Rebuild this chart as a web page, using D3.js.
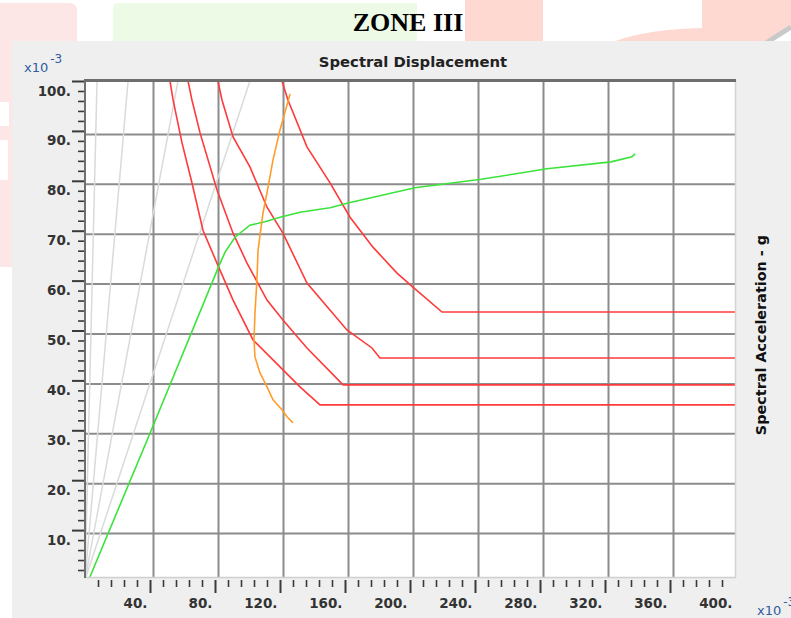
<!DOCTYPE html>
<html>
<head>
<meta charset="utf-8">
<title>Zone III - Spectral Displacement</title>
<script src="https://cdn.jsdelivr.net/npm/d3@7"></script>
<style>
  body { margin: 0; background: #fff; }
  svg { display: block; }
</style>
</head>
<body>
<script>
// tick values (both axes in x10^-3)
var xTicks = [40, 80, 120, 160, 200, 240, 280, 320, 360, 400];
var yTicks = [10, 20, 30, 40, 50, 60, 70, 80, 90, 100];

// constant period lines, x value where each one meets the top (y = 100)
var periodTopX = [7.4, 26.5, 57.2, 101.5];

// capacity curve (green)
var capacityCurve = [[3, 0.6], [41.8, 30.8], [82.5, 63], [86.2, 65.7], [92.3, 68.7], [101.5, 71.1],
  [110.8, 71.8], [120, 72.7], [132.3, 73.7], [150.8, 74.6], [162.5, 75.6], [203, 78.6],
  [243.7, 80.3], [284.3, 82.4], [323.7, 83.8], [336.6, 84.8], [338.5, 85.4]];

// performance point trace (orange)
var perfTrace = [[126.2, 97.4], [120, 90.2], [115.7, 84.2], [112, 77.6], [109.5, 73.5], [106.5, 66.1],
  [105.8, 60.1], [104.6, 53.5], [104, 48.1], [104.6, 44.7], [107.7, 41.5], [112, 38.7],
  [115.7, 36.1], [121.2, 34.1], [124.3, 32.7], [128, 31.5]];

// reduced demand spectra (red)
var demand1 = [[52.3, 100], [54.2, 96.2], [59.7, 87.6], [65.8, 79.6], [72.6, 70.1], [81.2, 63.5],
  [91.1, 56.1], [103.4, 48.1], [120, 42.7], [132.3, 38.7], [144.6, 35.1], [400, 35.1]];
var demand2 = [[63.4, 100], [65.8, 96.2], [70.8, 89.6], [81.2, 78.2], [91.1, 69.5], [99.7, 63.5],
  [112, 56.1], [121.8, 52.1], [136.6, 46.5], [158.8, 39.1], [400, 39.1]];
var demand3 = [[81.8, 100], [84.3, 96.2], [91.1, 88.8], [101.5, 82.8], [112, 74.7], [121.8, 69.5],
  [136.6, 59.5], [161.2, 50.1], [176.6, 46.5], [181.5, 44.5], [400, 44.5]];
var demand4 = [[121.2, 100], [124.9, 96.2], [136.6, 86.8], [150.8, 79.6], [163.1, 72.7], [177.2, 66.7],
  [192, 61.5], [201.8, 58.7], [219.7, 53.7], [400, 53.7]];

var labelFont = "'DejaVu Sans', Verdana, sans-serif";

drawChart();

function drawChart(){

    var width = 791,
        height = 618;

    var svg = d3.select("body")
        .append("svg")
        .attr("width", width)
        .attr("height", height);

    drawBackdrop(svg);

    //grey panel behind the chart
    svg.append("rect")
        .attr("x", 12).attr("y", 41)
        .attr("width", width - 12).attr("height", height - 41)
        .attr("fill", "#efefef");

    //plot area
    var left = 85, right = 735, top = 81, bottom = 577;

    var x = d3.scaleLinear().domain([0, 400]).range([85, 735]);
    var y = d3.scaleLinear().domain([0, 100]).range([580, 81]);

    svg.append("rect")
        .attr("x", left).attr("y", top - 1)
        .attr("width", right - left + 1).attr("height", bottom - top + 1)
        .attr("fill", "#fff");

    //grid (sits a few px off the ticks, like the original)
    var xGrid = svg.append("g")
        .attr("transform", "translate(3," + bottom + ")")
        .call(d3.axisBottom(x).tickValues(xTicks.slice(0, -1)).tickSize(-(bottom - top)).tickFormat(""));
    var yGrid = svg.append("g")
        .attr("transform", "translate(" + (left + 1) + ",3)")
        .call(d3.axisLeft(y).tickValues(yTicks.slice(0, -1)).tickSize(-(right - left - 1)).tickFormat(""));
    [xGrid, yGrid].forEach(function(g){
        g.select(".domain").remove();
        g.selectAll("line").attr("stroke", "#8c8c8c").attr("stroke-width", 2);
    });

    //clip the data lines to the plot
    svg.append("clipPath").attr("id", "plotClip")
        .append("rect")
        .attr("x", left + 1).attr("y", top)
        .attr("width", right - left - 1).attr("height", bottom - top);

    var plot = svg.append("g").attr("clip-path", "url(#plotClip)");

    var line = d3.line()
        .x(function(d){ return x(d[0]); })
        .y(function(d){ return y(d[1]); });

    //constant period lines
    plot.selectAll(".period")
        .data(periodTopX)
        .enter()
        .append("path")
        .attr("class", "period")
        .attr("d", function(d){ return line([[0, 0], [d, 100]]); })
        .attr("fill", "none")
        .attr("stroke", "#dadada")
        .attr("stroke-width", 1.5);

    //demand spectra
    plot.selectAll(".demand")
        .data([demand1, demand2, demand3, demand4])
        .enter()
        .append("path")
        .attr("class", "demand")
        .attr("d", line)
        .attr("fill", "none")
        .attr("stroke", "#ff3a3a")
        .attr("stroke-width", 1.6);

    plot.append("path")
        .datum(capacityCurve)
        .attr("d", line)
        .attr("fill", "none")
        .attr("stroke", "#3ce33c")
        .attr("stroke-width", 1.6);

    plot.append("path")
        .datum(perfTrace)
        .attr("d", line)
        .attr("fill", "none")
        .attr("stroke", "#ff9d2b")
        .attr("stroke-width", 1.6);

    //frame of the plot
    svg.append("line").attr("x1", right + 0.5).attr("x2", right + 0.5).attr("y1", top).attr("y2", bottom + 1)
        .attr("stroke", "#d4d4d4").attr("stroke-width", 1.5);
    svg.append("line").attr("x1", left).attr("x2", right + 1).attr("y1", bottom + 0.5).attr("y2", bottom + 0.5)
        .attr("stroke", "#cfcfcf").attr("stroke-width", 1.5);
    svg.append("line").attr("x1", left).attr("x2", left).attr("y1", top - 2).attr("y2", bottom + 1)
        .attr("stroke", "#707070").attr("stroke-width", 2);
    svg.append("line").attr("x1", left - 1).attr("x2", right + 1).attr("y1", top - 0.5).attr("y2", top - 0.5)
        .attr("stroke", "#6e6e6e").attr("stroke-width", 3);

    drawAxes(svg, x, y);
    drawLabels(svg);
};

function drawAxes(svg, x, y){

    var fmt = function(d){ return d + "."; };

    //y axis, major + minor
    var gy = svg.append("g")
        .attr("transform", "translate(84,0)")
        .call(d3.axisLeft(y).tickValues(yTicks).tickSize(12).tickFormat(fmt));
    var gyMinor = svg.append("g")
        .attr("transform", "translate(84,0)")
        .call(d3.axisLeft(y).tickValues(d3.range(2, 100, 2).filter(function(v){ return v % 10 != 0; }))
            .tickSize(6).tickFormat(""));

    gy.selectAll("text")
        .attr("x", -13)
        .attr("y", 14)
        .attr("dy", null);

    //x axis, major + minor
    var gx = svg.append("g")
        .attr("transform", "translate(0,580)")
        .call(d3.axisBottom(x).tickValues(xTicks).tickSize(13).tickFormat(fmt));
    var gxMinor = svg.append("g")
        .attr("transform", "translate(0,580)")
        .call(d3.axisBottom(x).tickValues(d3.range(8, 400, 8).filter(function(v){ return v % 40 != 0; }))
            .tickSize(7).tickFormat(""));

    gx.selectAll(".tick").filter(function(d){ return d === 400; }).select("line").remove();
    gx.selectAll("text")
        .attr("text-anchor", "end")
        .attr("x", -3)
        .attr("y", 28)
        .attr("dy", null);

    [gy, gyMinor, gx, gxMinor].forEach(function(g){
        g.select(".domain").remove();
        g.selectAll("line").attr("stroke", "#3a3a3a").attr("stroke-width", 2);
        g.selectAll("text")
            .attr("fill", "#333")
            .style("font-family", labelFont)
            .style("font-size", "13.5px")
            .style("font-weight", "bold");
    });
    gyMinor.selectAll("line").attr("stroke-width", 1.6);
    gxMinor.selectAll("line").attr("stroke-width", 1.6);
};

function drawLabels(svg){

    svg.append("text")
        .attr("x", 408).attr("y", 31)
        .attr("text-anchor", "middle")
        .style("font-family", "'Liberation Serif', 'Times New Roman', serif")
        .style("font-weight", "bold")
        .style("font-size", "26px")
        .text("ZONE III");

    svg.append("text")
        .attr("x", 413).attr("y", 67)
        .attr("text-anchor", "middle")
        .attr("fill", "#222")
        .style("font-family", labelFont)
        .style("font-weight", "bold")
        .style("font-size", "14.8px")
        .text("Spectral Displacement");

    svg.append("text")
        .attr("transform", "translate(766,335) rotate(-90)")
        .attr("text-anchor", "middle")
        .attr("fill", "#111")
        .style("font-family", labelFont)
        .style("font-weight", "bold")
        .style("font-size", "14.4px")
        .text("Spectral Acceleration - g");

    //exponent markers
    var expo = [[24, 72], [757, 615]];
    expo.forEach(function(p){
        var t = svg.append("text")
            .attr("x", p[0]).attr("y", p[1])
            .attr("fill", "#2f5e9e")
            .style("font-family", labelFont)
            .style("font-size", "13px");
        t.append("tspan").text("x10");
        t.append("tspan").attr("dx", 2).attr("dy", -9).style("font-size", "12px").text("-3");
    });
};

//faint document artwork around the chart
function drawBackdrop(svg){
    var pink = "#fde6e6";
    svg.append("path")
        .attr("d", "M0,3 H69 Q77,3 77,11 V41 H12 V267 H0 Z")
        .attr("fill", pink);
    svg.append("rect").attr("x", 0).attr("y", 102).attr("width", 9).attr("height", 24).attr("fill", "#fff");
    svg.append("rect").attr("x", 0).attr("y", 140).attr("width", 8).attr("height", 40).attr("fill", "#fff");

    svg.append("path")
        .attr("d", "M113,41 V9 Q113,3 119,3 H417 V41 Z")
        .attr("fill", "#edfae6");

    var salmon = "#fed9d2";
    svg.append("rect").attr("x", 465).attr("y", 0).attr("width", 78).attr("height", 41).attr("fill", salmon);
    svg.append("path")
        .attr("d", "M615,41 Q650,29 702,28 V0 H791 V28 L770,41 Z")
        .attr("fill", salmon);
    svg.append("line").attr("x1", 766).attr("y1", 43).attr("x2", 791).attr("y2", 27)
        .attr("stroke", "#c9c9c9").attr("stroke-width", 5);
};
</script>
</body>
</html>
